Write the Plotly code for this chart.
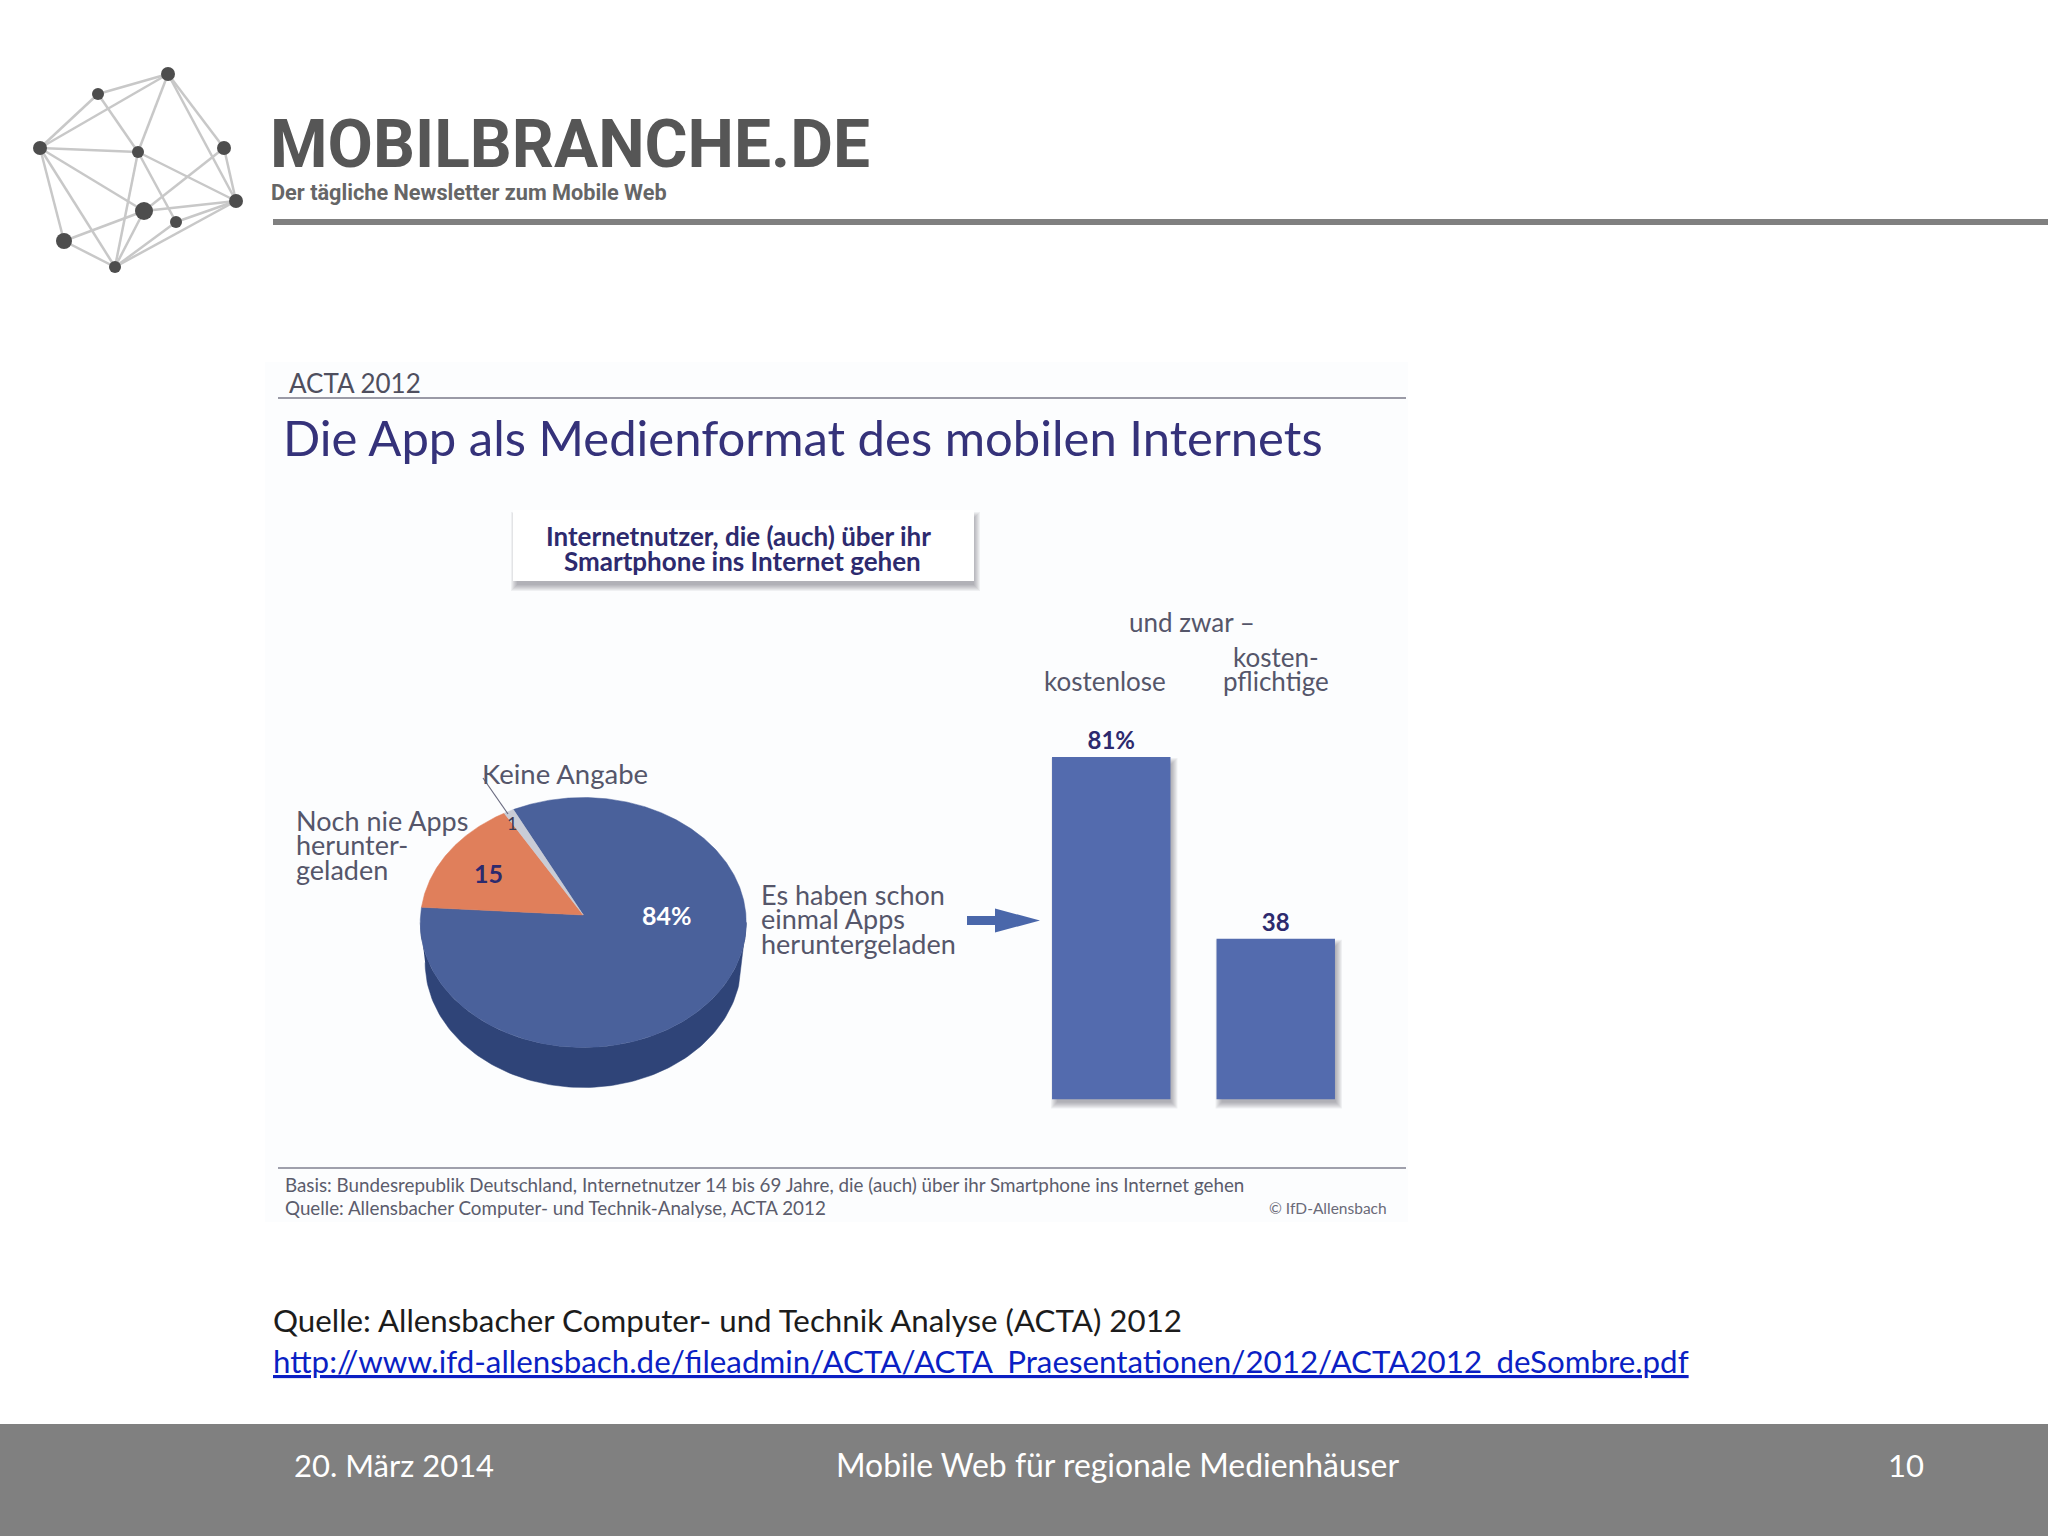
import numpy as np
import plotly.graph_objects as go

# ---------- data ----------
pie_labels = ["Es haben schon einmal Apps heruntergeladen", "Noch nie Apps heruntergeladen", "Keine Angabe"]
pie_values = [84, 15, 1]
pie_colors = ["#4a619b", "#e07f5b", "#c9ccd6"]
bar_categories = ["kostenlose", "kosten-pflichtige"]
bar_values = [81, 38]
bar_text = ["81%", "38"]

title_text = "Die App als Medienformat des mobilen Internets"
kicker_text = "ACTA 2012"
foot_lines = ["Basis: Bundesrepublik Deutschland, Internetnutzer 14 bis 69 Jahre, die (auch) über ihr Smartphone ins Internet gehen",
              "Quelle: Allensbacher Computer- und Technik-Analyse, ACTA 2012"]

# logo network (decoration, pixel positions)
logo_nodes = {"A": (168, 74, 7), "B": (98, 94, 6), "C": (40, 148, 7), "D": (138, 152, 6), "E": (224, 148, 7),
              "F": (236, 201, 7), "G": (144, 211, 9), "H": (176, 222, 6), "I": (64, 241, 8), "J": (115, 267, 6)}
logo_edges = ["BA", "CA", "CB", "AD", "AE", "EF", "AF", "CD", "BD", "DH", "DF", "CG", "CJ", "CI", "IJ", "IG", "GF", "GE", "GJ", "HJ", "JF", "HF", "DJ"]

W, H = 2048, 1536
NAVY = "#2d2a6e"
GREY = "#55566a"
def px(x): return x / W
def py(y): return 1 - y / H

shapes, annos = [], []

def rect(x0, y0, x1, y1, color, layer="below"):
    shapes.append(dict(type="rect", xref="paper", yref="paper", x0=px(x0), x1=px(x1), y0=py(y0), y1=py(y1),
                       fillcolor=color, line=dict(width=0), layer=layer))

def text(x, y, s, size, color=GREY, font="Lato", anchor="left", bold=False, **fontkw):
    annos.append(dict(xref="paper", yref="paper", x=px(x), y=py(y), text=f"<b>{s}</b>" if bold else s,
                      showarrow=False, xanchor=anchor, yanchor="middle", borderpad=0,
                      font=dict(size=size, color=color, family=font, **fontkw)))

def soft_shadow(x0, y0, x1, y1, dx=4, dy=5):
    for g in (6, 5, 4, 3, 2, 1, 0):
        rect(x0 + dx - g + 2, y0 + dy - g + 2, x1 + dx + g - 2, y1 + dy + g - 2, "rgba(70,70,90,0.07)")

# ---------- slide furniture ----------
rect(265, 362, 1408, 1222, "#fcfdfe")
rect(273, 219, 2048, 225, "#808080")
rect(0, 1424, 2048, 1536, "#808080")
rect(278, 397, 1406, 399, "#9a9aa6")
rect(278, 1167, 1406, 1169, "#9fa0ac")

for e in logo_edges:
    a, b = logo_nodes[e[0]], logo_nodes[e[1]]
    shapes.append(dict(type="line", xref="paper", yref="paper", x0=px(a[0]), y0=py(a[1]), x1=px(b[0]), y1=py(b[1]),
                       line=dict(color="#c8c8c8", width=2.5), layer="below"))
for x, y, r in logo_nodes.values():
    shapes.append(dict(type="circle", xref="paper", yref="paper", x0=px(x - r), x1=px(x + r), y0=py(y - r), y1=py(y + r),
                       fillcolor="#4d4d4d", line=dict(width=0), layer="below"))

text(269, 145, "MOBILBRANCHE.DE", 65.8, "#565656", "Roboto", bold=True)
text(270, 193, "Der tägliche Newsletter zum Mobile Web", 21.7, "#666666", "Roboto", bold=True)

text(288, 383, kicker_text, 26, "#4f4f5e")
text(282, 437, title_text, 49, "#35327a")

# callout box
soft_shadow(513, 510, 974, 581, 2, 6)
rect(513, 510, 974, 581, "#ffffff")
text(738, 536, "Internetnutzer, die (auch) über ihr", 26, NAVY, anchor="center", bold=True)
text(742, 561, "Smartphone ins Internet gehen", 26, NAVY, anchor="center", bold=True)

# pie labels
text(481, 773, "Keine Angabe", 27.5)
shapes.append(dict(type="line", xref="paper", yref="paper", x0=px(483), y0=py(778), x1=px(508), y1=py(814),
                   line=dict(color="#6a6b80", width=1.2)))
for y, s in zip((820, 844.5, 869), ("Noch nie Apps", "herunter-", "geladen")):
    text(294.5, y, s, 27)
for y, s in zip((894, 918.5, 943), ("Es haben schon", "einmal Apps", "heruntergeladen")):
    text(759.5, y, s, 27)
text(511.5, 823, "1", 18, "#3a3a55", anchor="center")
text(488, 873, str(pie_values[1]), 25, NAVY, bold=True, anchor="center")
text(667, 915, f"{pie_values[0]}%", 25, "#ffffff", bold=True, anchor="center")

# arrow
pts = [(967, 916), (995, 916), (995, 908.5), (1040, 920.5), (995, 932.5), (995, 925), (967, 925)]
path = "M " + " L ".join(f"{px(x):.5f},{py(y):.5f}" for x, y in pts) + " Z"
shapes.append(dict(type="path", xref="paper", yref="paper", path=path, fillcolor="#4a67aa", line=dict(width=0)))

# bar captions
text(1192, 622, "und zwar –", 26, anchor="center")
text(1105, 681, "kostenlose", 26, anchor="center")
text(1276, 657, "kosten-", 26, anchor="center")
text(1276, 681, "pflichtige", 26, anchor="center")

# footnotes
text(284, 1184, foot_lines[0], 18.8, "#5b5c6c")
text(284, 1207, foot_lines[1], 18.8, "#5b5c6c")
text(1388, 1208, "© IfD-Allensbach", 15.5, "#6a6a78", anchor="right")

# slide source
text(272, 1320, "Quelle: Allensbacher Computer- und Technik Analyse (ACTA) 2012", 31.3, "#1c1c1c")
text(272, 1361, "http://www.ifd-allensbach.de/fileadmin/ACTA/ACTA_Praesentationen/2012/ACTA2012_deSombre.pdf", 31.3,
     "#0b1fc4", lineposition="under")

# footer
text(293, 1465, "20. März 2014", 31, "#ffffff")
text(835, 1465, "Mobile Web für regionale Medienhäuser", 31.9, "#ffffff")
text(1925, 1465, "10", 31, "#ffffff", anchor="right")

# ---------- bars ----------
BAR_X0, BAR_X1 = 1029.0, 1358.0
BAR_Y0, BAR_TOP = 1099.5, 719.0
BAR_RANGE = 90
bar_w = (BAR_X1 - BAR_X0) / 2 * 0.72
for i, v in enumerate(bar_values):
    cx = BAR_X0 + (i + 0.5) * (BAR_X1 - BAR_X0) / 2
    top = BAR_Y0 - v / BAR_RANGE * (BAR_Y0 - BAR_TOP)
    soft_shadow(cx - bar_w / 2, top, cx + bar_w / 2, BAR_Y0, 3, 5)

fig = go.Figure()
fig.add_trace(go.Bar(x=bar_categories, y=bar_values, text=bar_text, textposition="outside", cliponaxis=False,
                     textfont=dict(size=24, color=NAVY, family="Lato"),
                     texttemplate="<b>%{text}</b>", marker=dict(color="#536bae", line=dict(width=0)),
                     width=0.72, showlegend=False, xaxis="x", yaxis="y"))

# ---------- pie (tilted: unit circle on an anisotropic axis pair) ----------
DEPTH = 0.32
def add_poly(xs, ys, color, name):
    fig.add_trace(go.Scatter(x=xs, y=ys, mode="lines", fill="toself", fillcolor=color, line=dict(width=0.5, color=color),
                             name=name, hoverinfo="name", showlegend=False, xaxis="x2", yaxis="y2"))

t = np.radians(np.linspace(180, 360, 120))
add_poly(np.r_[np.cos(t), np.cos(t[::-1]) * 0.97], np.r_[np.sin(t), np.sin(t[::-1]) - DEPTH], "#2f4478", "Seite")

APEX = (0.0, 0.06)
start = 115.4
angle = start
for lab, val, col in zip(pie_labels, pie_values, pie_colors):
    sweep = val / sum(pie_values) * 360
    a = np.radians(np.linspace(angle, angle - sweep, max(6, int(sweep * 2))))
    add_poly(np.r_[APEX[0], np.cos(a), APEX[0]], np.r_[APEX[1], np.sin(a), APEX[1]], col, f"{lab}: {val}")
    angle -= sweep

PX0, PX1 = 583.25 - 163 * 1.05, 583.25 + 163 * 1.05
PY_TOP, PY_BOT = 922.5 - 125 * 1.1, 922.5 + 125 * 1.4

fig.update_layout(
    width=W, height=H, margin=dict(l=0, r=0, t=0, b=0), paper_bgcolor="#ffffff", plot_bgcolor="rgba(0,0,0,0)",
    showlegend=False, shapes=shapes, annotations=annos,
    xaxis=dict(domain=[px(BAR_X0), px(BAR_X1)], visible=False, type="category", range=[-0.5, 1.5], fixedrange=True),
    yaxis=dict(domain=[py(BAR_Y0), py(BAR_TOP)], visible=False, range=[0, BAR_RANGE], fixedrange=True),
    xaxis2=dict(domain=[px(PX0), px(PX1)], visible=False, range=[-1.05, 1.05], anchor="y2", fixedrange=True),
    yaxis2=dict(domain=[py(PY_BOT), py(PY_TOP)], visible=False, range=[-1.4, 1.1], anchor="x2", fixedrange=True),
)

fig.write_html("out.html", config=dict(displayModeBar=False), post_script="document.body.style.margin='0';")
